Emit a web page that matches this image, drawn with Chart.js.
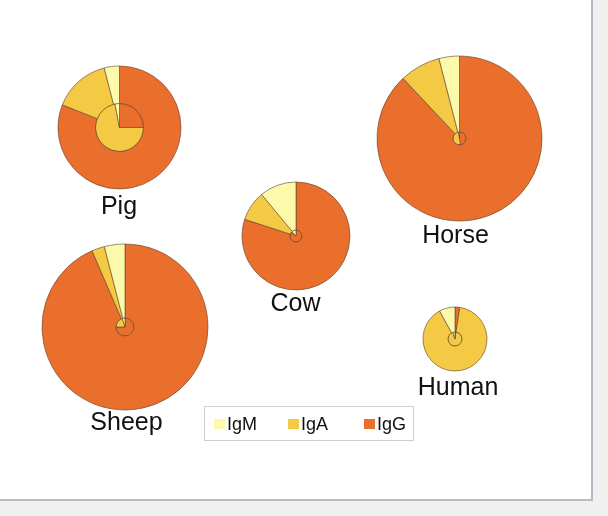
<!DOCTYPE html>
<html>
<head>
<meta charset="utf-8">
<script src="https://cdn.jsdelivr.net/npm/chart.js@4.4.1/dist/chart.umd.min.js"></script>
<style>
  html, body { margin: 0; padding: 0; background: #f0f0f0; }
  #panel { position: absolute; left: 0; top: 0; width: 591px; height: 499px; background: #fff;
           border-right: 2px solid #b6bac4; border-bottom: 2px solid #b6bac4; overflow: hidden; }
  .pie { position: absolute; }
  .lbl { position: absolute; font-family: "Liberation Sans", Arial, sans-serif; font-size: 25px;
         line-height: 25px; color: #111; white-space: nowrap; transform: translateX(-50%); }
  #legend { position: absolute; left: 204px; top: 406px; width: 208px; height: 33px;
            border: 1px solid #cfcfcf; background: #fff; }
  .sw { position: absolute; width: 11px; height: 10px; }
  .lt { position: absolute; font-family: "Liberation Sans", Arial, sans-serif; font-size: 18px;
        line-height: 18px; color: #111; white-space: nowrap; }
</style>
</head>
<body>
<div id="panel"></div>
<script>
// animals and isotypes
const animals = ['Pig', 'Horse', 'Cow', 'Sheep', 'Human'];
const isotypes = ['IgM', 'IgA', 'IgG'];
const isoColors = ['#fdf9aa', '#f4c944', '#ea6f2d'];

// outer ring share (%) per animal
const outerIgM = [4, 4, 11, 4, 8];
const outerIgA = [15, 8, 9, 2.5, 89.6];
const outerIgG = [81, 88, 80, 93.5, 2.4];

// inner circle share (%) per animal
const innerIgM = [3, 2, 12, 5, 5];
const innerIgA = [72, 50, 3, 20, 93];
const innerIgG = [25, 48, 85, 75, 2];

// where each pie sits on the page (centre, outer radius, inner radius, label baseline)
const layout = {
  Pig:   { x: 119.5, y: 127,   R: 61.5, r: 24,  lx: 119,   ly: 214 },
  Horse: { x: 459.5, y: 138.5, R: 82.5, r: 6.5, lx: 455.5, ly: 243 },
  Cow:   { x: 296,   y: 235.5, R: 54,   r: 6,   lx: 295.5, ly: 311.5 },
  Sheep: { x: 124.5, y: 326.5, R: 83,   r: 9,   lx: 126.5, ly: 430 },
  Human: { x: 455,   y: 339,   R: 32,   r: 7,   lx: 458,   ly: 395 }
};

const panel = document.getElementById('panel');

animals.forEach((name, i) => {
  const L = layout[name];
  const size = 2 * L.R + 6;
  const box = document.createElement('div');
  box.className = 'pie';
  box.style.left = (L.x - size / 2) + 'px';
  box.style.top = (L.y - size / 2) + 'px';
  box.style.width = size + 'px';
  box.style.height = size + 'px';
  const cv = document.createElement('canvas');
  box.appendChild(cv);
  panel.appendChild(box);

  // slices run counter-clockwise IgM, IgA, IgG from the top -> reverse for chart.js (clockwise)
  const rev = arr => arr.slice().reverse();
  new Chart(cv.getContext('2d'), {
    type: 'pie',
    data: {
      labels: rev(isotypes),
      datasets: [
        {
          data: rev([outerIgM[i], outerIgA[i], outerIgG[i]]),
          backgroundColor: rev(isoColors),
          borderColor: '#5e4028',
          borderWidth: 0.6,
          weight: L.R - L.r
        },
        {
          data: rev([innerIgM[i], innerIgA[i], innerIgG[i]]),
          backgroundColor: rev(isoColors),
          borderColor: '#5e4028',
          borderWidth: 0.6,
          weight: L.r
        }
      ]
    },
    options: {
      responsive: true,
      maintainAspectRatio: false,
      animation: false,
      radius: L.R,
      layout: { padding: 0 },
      plugins: { legend: { display: false }, tooltip: { enabled: false } },
      events: []
    }
  });

  const lbl = document.createElement('div');
  lbl.className = 'lbl';
  lbl.textContent = name;
  lbl.style.left = L.lx + 'px';
  lbl.style.top = (L.ly - 21.2) + 'px';
  panel.appendChild(lbl);
});

// legend
const legend = document.createElement('div');
legend.id = 'legend';
panel.appendChild(legend);
const swX = [9, 83, 159]; // offsets inside the legend box
isotypes.forEach((iso, k) => {
  const sw = document.createElement('div');
  sw.className = 'sw';
  sw.style.left = swX[k] + 'px';
  sw.style.top = '12px';
  sw.style.background = isoColors[k];
  legend.appendChild(sw);
  const t = document.createElement('div');
  t.className = 'lt';
  t.textContent = iso;
  t.style.left = (swX[k] + 13) + 'px';
  t.style.top = '8px';
  legend.appendChild(t);
});
</script>
</body>
</html>
